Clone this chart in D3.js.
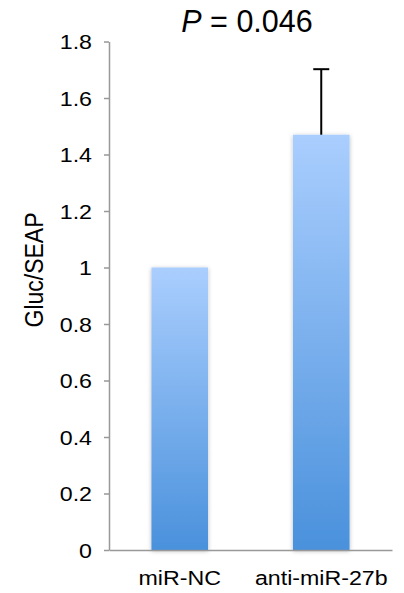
<!DOCTYPE html>
<html><head><meta charset="utf-8">
<script src="https://cdn.jsdelivr.net/npm/d3@7"></script>
<style>body{margin:0;background:#fff;} svg{display:block;font-family:"Liberation Sans",Arial,sans-serif;}</style>
</head><body>
<script>
const categories = ["miR-NC", "anti-miR-27b"];
const values = [1.0, 1.47];
const errors = [0, 0.232];
const tickValues = [0, 0.2, 0.4, 0.6, 0.8, 1.0, 1.2, 1.4, 1.6, 1.8];
const tickLabels = ["0", "0.2", "0.4", "0.6", "0.8", "1", "1.2", "1.4", "1.6", "1.8"];
const yTitle = "Gluc/SEAP";
const pValue = "0.046";

const W = 404, H = 593;
const sx = 1.16;
const svg = d3.select("body").append("svg").attr("width", W).attr("height", H);
const defs = svg.append("defs");
const grad = defs.append("linearGradient").attr("id", "barGrad")
  .attr("x1", 0).attr("y1", 0).attr("x2", 0).attr("y2", 1);
grad.append("stop").attr("offset", "0%").attr("stop-color", "#aacefe");
grad.append("stop").attr("offset", "100%").attr("stop-color", "#4a91dc");
const f = defs.append("filter").attr("id", "shadow").attr("x", "-30%").attr("y", "-10%").attr("width", "160%").attr("height", "120%");
f.append("feDropShadow").attr("dx", 0).attr("dy", 1).attr("stdDeviation", 2.2)
  .attr("flood-color", "#000").attr("flood-opacity", 0.28);

const y = d3.scaleLinear().domain([0, 1.8]).range([550, 41.5]);
const x = d3.scaleBand().domain(categories).range([109, 392]).padding(0);
const bw = x.bandwidth() * 0.4;

// bars
svg.append("g").selectAll("rect").data(categories).join("rect")
  .attr("x", d => x(d) + x.bandwidth() / 2 - bw / 2)
  .attr("y", (d, i) => y(values[i]))
  .attr("width", bw)
  .attr("height", (d, i) => y(0) - y(values[i]))
  .attr("fill", "url(#barGrad)")
  .attr("filter", "url(#shadow)");

// error bars
const eg = svg.append("g").attr("stroke", "#000").attr("stroke-width", 2);
categories.forEach((c, i) => {
  if (!errors[i]) return;
  const cx = x(c) + x.bandwidth() / 2;
  eg.append("line").attr("x1", cx).attr("x2", cx).attr("y1", y(values[i])).attr("y2", y(values[i] + errors[i]));
  eg.append("line").attr("x1", cx - 8).attr("x2", cx + 8).attr("y1", y(values[i] + errors[i])).attr("y2", y(values[i] + errors[i]));
});

// y axis
const yAxis = svg.append("g").attr("transform", "translate(109,0)")
  .call(d3.axisLeft(y).tickValues(tickValues).tickFormat((d, i) => tickLabels[i]).tickSize(5).tickSizeOuter(0));
yAxis.select(".domain").attr("stroke", "#999").attr("stroke-width", 1.5);
yAxis.selectAll(".tick line").attr("stroke", "#999").attr("stroke-width", 1.5);
yAxis.selectAll(".tick text").attr("font-size", 20).attr("fill", "#000")
  .attr("x", -17 / sx).attr("dy", "0.35em").attr("transform", `scale(${sx},1)`)
  .attr("font-family", "Liberation Sans, Arial, sans-serif");

// x axis
const xAxis = svg.append("g").attr("transform", "translate(0,550)")
  .call(d3.axisBottom(x).tickSize(0).tickSizeOuter(0));
xAxis.select(".domain").attr("stroke", "#999").attr("stroke-width", 1.5);
xAxis.selectAll(".tick text").attr("font-size", 20).attr("fill", "#000")
  .attr("y", 35).attr("dy", 0).attr("transform", `scale(${sx},1)`)
  .attr("font-family", "Liberation Sans, Arial, sans-serif");

// y title
svg.append("text").attr("transform", `translate(43,270) scale(${sx},1) rotate(-90)`)
  .attr("text-anchor", "middle").attr("font-size", 23).attr("fill", "#000").text(yTitle);

// P value title
const t = svg.append("text").attr("x", 247).attr("y", 32).attr("text-anchor", "middle")
  .attr("font-size", 30.5).attr("fill", "#000");
t.append("tspan").attr("font-style", "italic").text("P");
t.append("tspan").text(" = " + pValue);
</script>
</body></html>
